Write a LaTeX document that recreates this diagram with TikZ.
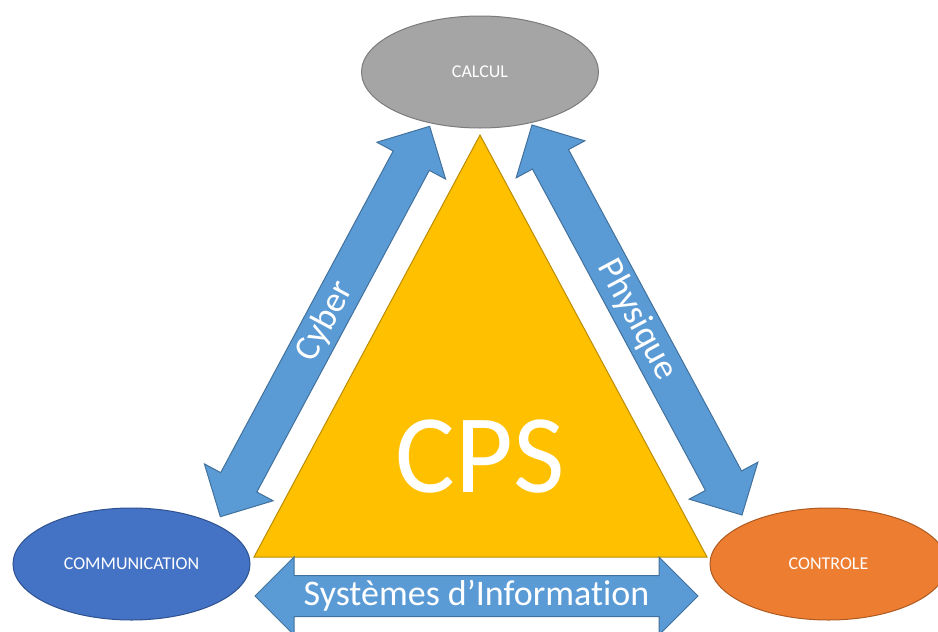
\documentclass[tikz,border=0pt]{standalone}
\usepackage{fontspec}
\setmainfont{Carlito}[Ligatures=NoCommon]
\usepackage{xcolor}
\usetikzlibrary{shapes.geometric}
\definecolor{gris}{HTML}{A5A5A5}
\definecolor{grisfonce}{HTML}{7C7C7C}
\definecolor{bleu}{HTML}{4472C4}
\definecolor{bleufonce}{HTML}{2F528F}
\definecolor{orange}{HTML}{ED7D31}
\definecolor{orangefonce}{HTML}{AE5A21}
\definecolor{jaune}{HTML}{FFC000}
\definecolor{jaunefonce}{HTML}{BC8C00}
\definecolor{ciel}{HTML}{5B9BD5}
\definecolor{cielfonce}{HTML}{41719C}
\tikzset{
  ell/.style = {ellipse, inner sep=0pt, minimum width=237pt,
    minimum height=112pt, line width=1pt, text=white,
    font=\fontsize{18}{22}\selectfont},
  ell_g/.style = {ell, fill=gris, draw=grisfonce},% ellipse grise
  ell_b/.style = {ell, fill=bleu, draw=bleufonce},% ellipse bleue
  ell_o/.style = {ell, fill=orange, draw=orangefonce},% ellipse orange
  texte_f/.style = {transform shape, inner sep=0pt, text=white,
    font=\fontsize{36}{40}\selectfont},% texte des fleches
  pics/fleche/.style = {code={% fleche double, longueur 443
    \filldraw[fill=ciel, draw=cielfonce, line width=1pt]
      (-221.5,0) -- (-182.5,-39) -- (-182.5,-20.5) -- (182.5,-20.5)
      -- (182.5,-39) -- (221.5,0) -- (182.5,39) -- (182.5,20.5)
      -- (-182.5,20.5) -- (-182.5,39) -- cycle;
    \node[texte_f] (-t) at (0,0) {#1};
  }}
}
\begin{document}
\begin{tikzpicture}[x=1pt, y=-1pt]
\path[use as bounding box, fill=white] (0,0) rectangle (938,632);
\clip (0,0) rectangle (938,632);

% le triangle
\filldraw[fill=jaune, draw=jaunefonce, line width=1pt]
  (480,135) -- (707,557) -- (254,557) -- cycle;
\node[text=white, inner sep=0pt, anchor=base,
  font=\fontsize{112}{120}\selectfont] (cps) at (480,492) {CPS};

% les ellipses
\node[ell_g] (calcul) at (480,72) {CALCUL};
\node[ell_b] (comm)   at (131.5,564) {COMMUNICATION};
\node[ell_o] (ctrl)   at (828.5,564) {CONTROLE};

% les fleches
\pic[rotate=61.8]  (cyber) at (325,321.5) {fleche=Cyber};
\pic[rotate=-61.7] (phys)  at (637,320) {fleche=Physique};
\pic               (si)    at (476.5,596) {fleche=Systèmes d’Information};
\end{tikzpicture}
\end{document}
